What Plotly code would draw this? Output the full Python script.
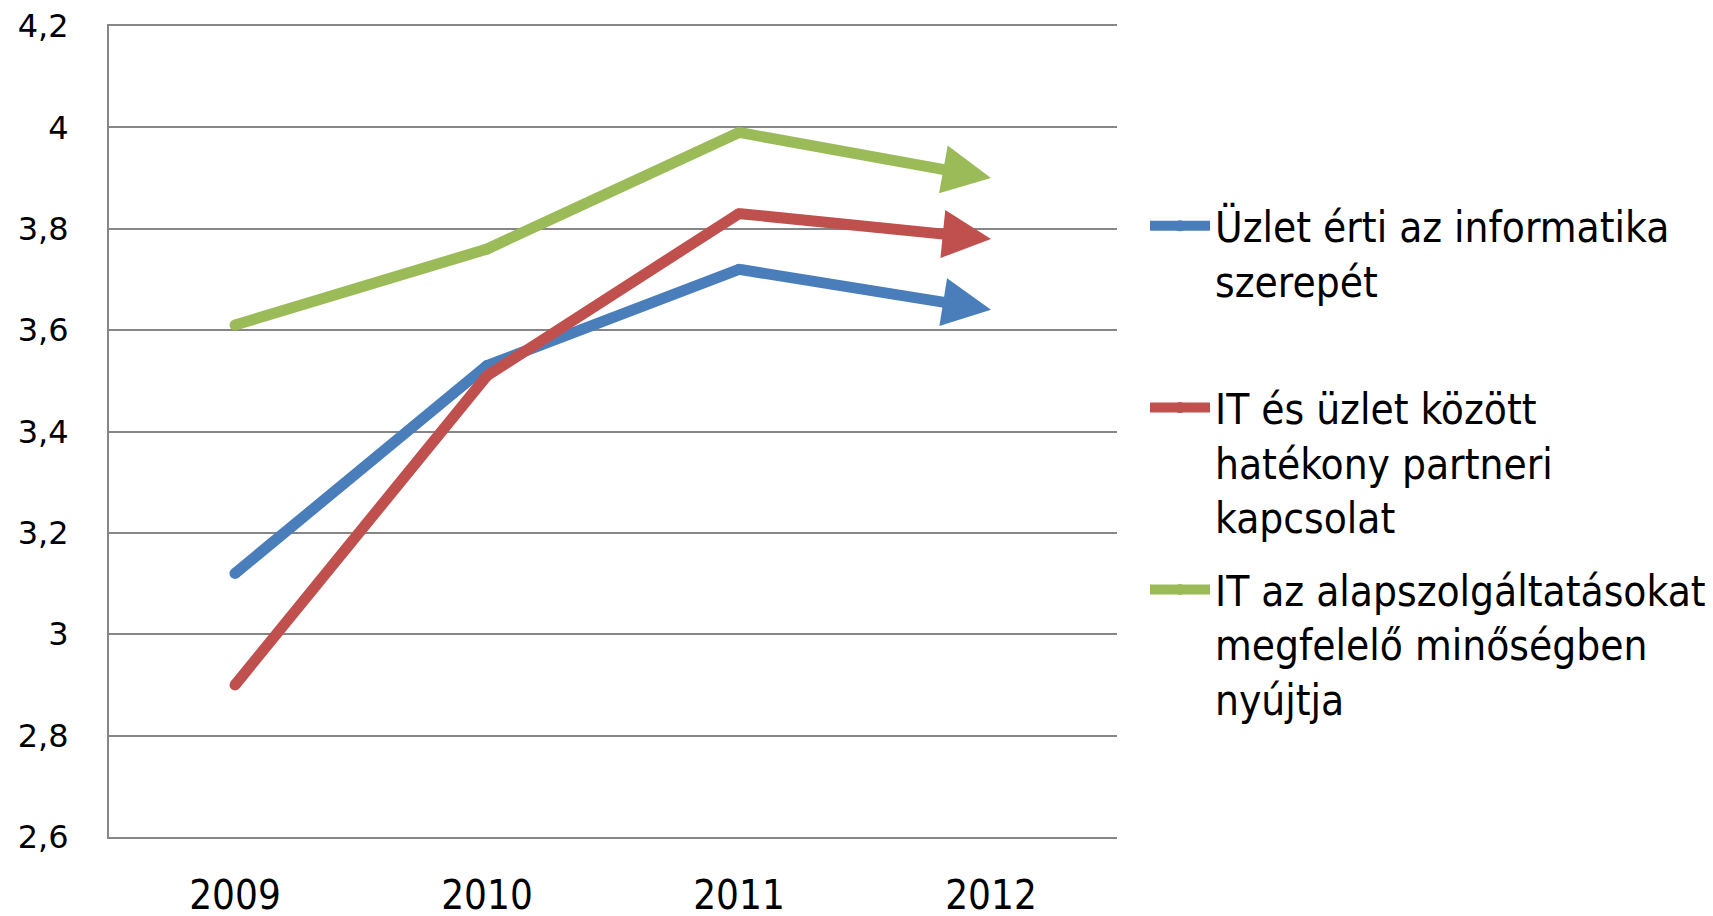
import plotly.graph_objects as go

years = ["2009", "2010", "2011", "2012"]
series_names = [
    "Üzlet érti az informatika<br>szerepét<br> ",
    "IT és üzlet között<br>hatékony partneri<br>kapcsolat",
    "IT az alapszolgáltatásokat<br>megfelelő minőségben<br>nyújtja",
]
blue_vals = [3.12, 3.53, 3.72, 3.64]
red_vals = [2.90, 3.51, 3.83, 3.78]
green_vals = [3.61, 3.76, 3.99, 3.90]
colors = ["#4A7EBB", "#C0504D", "#9BBB59"]
y_ticks = [2.6, 2.8, 3.0, 3.2, 3.4, 3.6, 3.8, 4.0, 4.2]
y_labels = ["2,6", "2,8", "3", "3,2", "3,4", "3,6", "3,8", "4", "4,2"]

NARROW = "DejaVu Sans Condensed"
W, H = 1697, 908

fig = go.Figure()
last = len(years) - 1
for i, (name, vals, col) in enumerate(zip(series_names, [blue_vals, red_vals, green_vals], colors)):
    # line up to the second-to-last point (round joins/caps via small circles)
    fig.add_trace(go.Scatter(
        x=years[:last], y=vals[:last], mode="lines+markers", name=name,
        legendgroup=str(i), line=dict(color=col, width=11),
        marker=dict(size=11, color=col, line=dict(width=0)),
    ))
    # final segment drawn as an arrow ending at the last data point
    fig.add_annotation(
        x=last, y=vals[last], ax=last - 1, ay=vals[last - 1],
        xref="x", yref="y", axref="x", ayref="y",
        text="", showarrow=True, arrowhead=2, arrowsize=0.88,
        arrowwidth=11, arrowcolor=col, standoff=0,
    )

fig.update_layout(
    width=W, height=H,
    margin=dict(l=101, r=588, t=18, b=79),
    paper_bgcolor="white", plot_bgcolor="white",
    font=dict(family=NARROW, color="black"),
    xaxis=dict(
        type="category", categoryarray=years, categoryorder="array",
        range=[-0.5, 3.5], showgrid=False,
        showline=True, mirror=True, linecolor="#868686", linewidth=2,
        tickvals=years, ticktext=years,
        tickfont=dict(family=NARROW, size=40),
        ticks="", ticklabelstandoff=22, automargin=False,
    ),
    yaxis=dict(
        range=[2.6, 4.2], tickvals=y_ticks, ticktext=y_labels,
        showgrid=True, gridcolor="#868686", gridwidth=2,
        showline=True, linecolor="#868686", linewidth=2,
        tickfont=dict(family="DejaVu Sans", size=32),
        ticks="", ticklabelstandoff=32, zeroline=False, automargin=False,
        ticklabeloverflow="allow",
    ),
    legend=dict(
        xref="container", yref="container", x=1137 / W, y=1 - 184 / H,
        xanchor="left", yanchor="top", valign="top",
        font=dict(family=NARROW, size=42),
        tracegroupgap=15, itemwidth=60, maxheight=880,
    ),
    showlegend=True,
)

fig.write_html("out.html")
